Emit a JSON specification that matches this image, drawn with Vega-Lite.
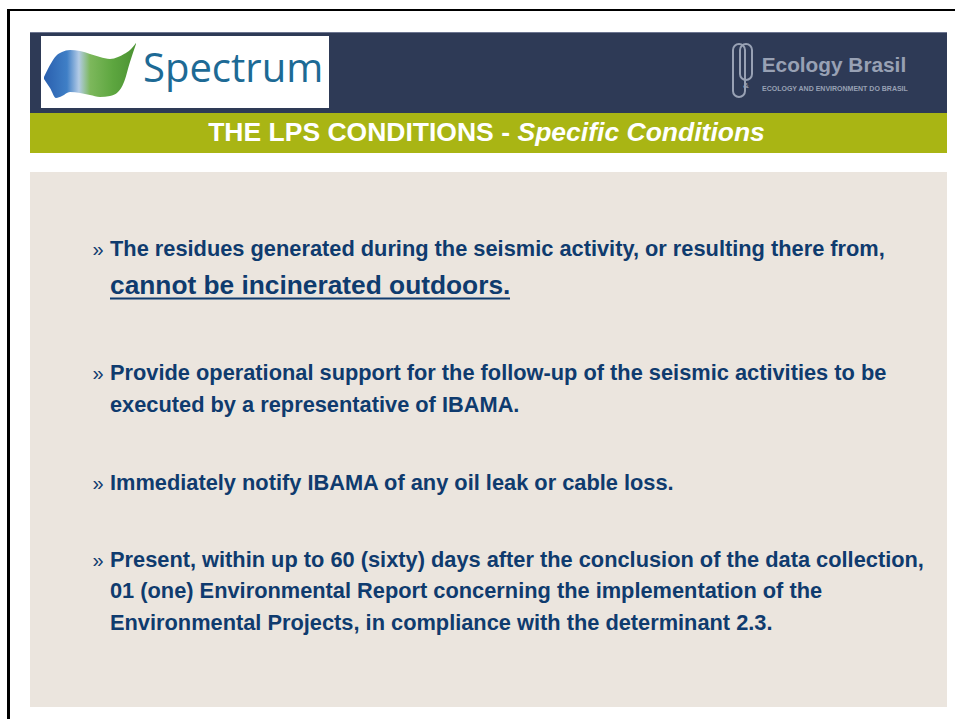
{
  "$schema": "https://vega.github.io/schema/vega-lite/v6.json",
  "background": "white",
  "padding": {"left": 7, "top": 9, "right": 0, "bottom": 0},
  "config": {"view": {"stroke": null}, "text": {"font": "Liberation Sans"}},
  "spacing": 0,
  "vconcat": [
    {"width": 948, "height": 2, "view": {"fill": "#000000"}, "data": {"values": []}, "mark": {"type": "text"}},
    {
      "spacing": 20,
      "hconcat": [
        {"width": 3, "height": 708, "view": {"fill": "#000000"}, "data": {"values": []}, "mark": {"type": "text"}},
        {
          "spacing": 0,
          "vconcat": [
            {"width": 917, "height": 21, "data": {"values": []}, "mark": {"type": "text"}},
            {"width": 917, "height": 1, "view": {"fill": "#6c7590"}, "data": {"values": []}, "mark": {"type": "text"}},
            {"width": 917, "height": 3, "view": {"fill": "#2e3a56"}, "data": {"values": []}, "mark": {"type": "text"}},
            {
              "spacing": 0,
              "hconcat": [
                {"width": 11, "height": 72, "view": {"fill": "#2e3a56"}, "data": {"values": []}, "mark": {"type": "text"}},
                {
                  "width": 288,
                  "height": 72,
                  "view": {"fill": "#ffffff"},
                  "layer": [
                    {
                      "data": {"values": [
                        {"u": 3, "top": 41, "bottom": 43},
                        {"u": 9, "top": 29, "bottom": 52},
                        {"u": 15, "top": 20, "bottom": 62},
                        {"u": 21, "top": 16, "bottom": 60},
                        {"u": 29, "top": 14, "bottom": 56},
                        {"u": 39, "top": 15, "bottom": 57},
                        {"u": 49, "top": 18, "bottom": 59},
                        {"u": 59, "top": 21, "bottom": 61},
                        {"u": 69, "top": 23, "bottom": 60},
                        {"u": 77, "top": 21, "bottom": 56},
                        {"u": 83, "top": 18, "bottom": 46},
                        {"u": 89, "top": 14, "bottom": 26},
                        {"u": 95, "top": 7, "bottom": 8}
                      ]},
                      "mark": {
                        "type": "area",
                        "interpolate": "monotone",
                        "color": {
                          "gradient": "linear", "x1": 0, "y1": 0, "x2": 1, "y2": 0,
                          "stops": [
                            {"offset": 0, "color": "#2a5fae"},
                            {"offset": 0.25, "color": "#3f7fc6"},
                            {"offset": 0.38, "color": "#b3cbe6"},
                            {"offset": 0.5, "color": "#7db85c"},
                            {"offset": 0.75, "color": "#5da63f"},
                            {"offset": 1, "color": "#4b9233"}
                          ]
                        }
                      },
                      "encoding": {
                        "x": {"field": "u", "type": "quantitative", "scale": {"domain": [0, 288], "nice": false, "zero": false}, "axis": null},
                        "y": {"field": "top", "type": "quantitative", "scale": {"domain": [0, 72], "nice": false, "zero": false, "reverse": true}, "axis": null},
                        "y2": {"field": "bottom"}
                      }
                    },
                    {
                      "data": {"values": [{"name": "Spectrum"}]},
                      "mark": {"type": "text", "font": "Open Sans", "fontSize": 40, "fontWeight": 400, "color": "#1d6a95", "align": "left", "baseline": "alphabetic"},
                      "encoding": {
                        "text": {"field": "name"},
                        "x": {"datum": 102, "type": "quantitative", "scale": {"domain": [0, 288], "nice": false, "zero": false}, "axis": null},
                        "y": {"datum": 45.7, "type": "quantitative", "scale": {"domain": [0, 72], "nice": false, "zero": false, "reverse": true}, "axis": null}
                      }
                    }
                  ]
                },
                {
                  "width": 618,
                  "height": 72,
                  "view": {"fill": "#2e3a56"},
                  "layer": [
                    {
                      "data": {"values": [
                        {"l": 404, "r": 416, "t": 8, "b": 61},
                        {"l": 411, "r": 423, "t": 8, "b": 44}
                      ]},
                      "mark": {"type": "rect", "fill": null, "stroke": "#98a1b4", "strokeWidth": 2, "cornerRadius": 6},
                      "encoding": {
                        "x": {"field": "l", "type": "quantitative", "scale": {"domain": [0, 618], "nice": false, "zero": false}, "axis": null},
                        "x2": {"field": "r"},
                        "y": {"field": "t", "type": "quantitative", "scale": {"domain": [0, 72], "nice": false, "zero": false, "reverse": true}, "axis": null},
                        "y2": {"field": "b"}
                      }
                    },
                    {
                      "data": {"values": [{"name": "Ecology Brasil"}]},
                      "mark": {"type": "text", "font": "Liberation Sans", "fontSize": 20.8, "fontWeight": "bold", "color": "#98a1b4", "align": "left", "baseline": "alphabetic"},
                      "encoding": {
                        "text": {"field": "name"},
                        "x": {"datum": 432.7, "type": "quantitative", "scale": {"domain": [0, 618], "nice": false, "zero": false}, "axis": null},
                        "y": {"datum": 35.7, "type": "quantitative", "scale": {"domain": [0, 72], "nice": false, "zero": false, "reverse": true}, "axis": null}
                      }
                    },
                    {
                      "data": {"values": [{"name": "ECOLOGY AND ENVIRONMENT DO BRASIL"}]},
                      "mark": {"type": "text", "font": "Liberation Sans", "fontSize": 7, "fontWeight": "bold", "color": "#98a1b4", "align": "left", "baseline": "alphabetic"},
                      "encoding": {
                        "text": {"field": "name"},
                        "x": {"datum": 433, "type": "quantitative", "scale": {"domain": [0, 618], "nice": false, "zero": false}, "axis": null},
                        "y": {"datum": 55, "type": "quantitative", "scale": {"domain": [0, 72], "nice": false, "zero": false, "reverse": true}, "axis": null}
                      }
                    },
                    {
                      "data": {"values": [{"name": "&"}]},
                      "mark": {"type": "text", "font": "Liberation Sans", "fontSize": 8, "fontWeight": "bold", "color": "#98a1b4", "align": "center", "baseline": "alphabetic"},
                      "encoding": {
                        "text": {"field": "name"},
                        "x": {"datum": 417, "type": "quantitative", "scale": {"domain": [0, 618], "nice": false, "zero": false}, "axis": null},
                        "y": {"datum": 52, "type": "quantitative", "scale": {"domain": [0, 72], "nice": false, "zero": false, "reverse": true}, "axis": null}
                      }
                    }
                  ]
                }
              ]
            },
            {"width": 917, "height": 5, "view": {"fill": "#2e3a56"}, "data": {"values": []}, "mark": {"type": "text"}},
            {
              "width": 917,
              "height": 40,
              "view": {"fill": "#a9b514"},
              "data": {"values": [
                {"part": "THE LPS CONDITIONS -", "style": "upright"},
                {"part": "Specific Conditions", "style": "italic"}
              ]},
              "layer": [
                {
                  "transform": [{"filter": "datum.style == 'upright'"}],
                  "mark": {"type": "text", "font": "Liberation Sans", "fontSize": 26.5, "fontWeight": "bold", "color": "#ffffff", "align": "right", "baseline": "alphabetic"},
                  "encoding": {
                    "text": {"field": "part"},
                    "x": {"datum": 480, "type": "quantitative", "scale": {"domain": [0, 917], "nice": false, "zero": false}, "axis": null},
                    "y": {"datum": 27.7, "type": "quantitative", "scale": {"domain": [0, 40], "nice": false, "zero": false, "reverse": true}, "axis": null}
                  }
                },
                {
                  "transform": [{"filter": "datum.style == 'italic'"}],
                  "mark": {"type": "text", "font": "Liberation Sans", "fontSize": 26.5, "fontWeight": "bold", "fontStyle": "italic", "color": "#ffffff", "align": "left", "baseline": "alphabetic"},
                  "encoding": {
                    "text": {"field": "part"},
                    "x": {"datum": 487.5, "type": "quantitative", "scale": {"domain": [0, 917], "nice": false, "zero": false}, "axis": null},
                    "y": {"datum": 27.7, "type": "quantitative", "scale": {"domain": [0, 40], "nice": false, "zero": false, "reverse": true}, "axis": null}
                  }
                }
              ]
            },
            {"width": 917, "height": 19, "data": {"values": []}, "mark": {"type": "text"}},
            {
              "width": 917,
              "height": 535,
              "view": {"fill": "#ebe5de"},
              "data": {"values": [
                {"item": 1, "line": 1, "emphasis": false, "baseline": 84, "text": "The residues generated during the seismic activity, or resulting there from,"},
                {"item": 1, "line": 2, "emphasis": true, "baseline": 122, "text": "cannot be incinerated outdoors."},
                {"item": 2, "line": 1, "emphasis": false, "baseline": 208, "text": "Provide operational support for the follow-up of the seismic activities to be"},
                {"item": 2, "line": 2, "emphasis": false, "baseline": 240, "text": "executed by a representative of IBAMA."},
                {"item": 3, "line": 1, "emphasis": false, "baseline": 318, "text": "Immediately notify IBAMA of any oil leak or cable loss."},
                {"item": 4, "line": 1, "emphasis": false, "baseline": 394.7, "text": "Present, within up to 60 (sixty) days after the conclusion of the data collection,"},
                {"item": 4, "line": 2, "emphasis": false, "baseline": 426, "text": "01 (one) Environmental Report concerning the implementation of the"},
                {"item": 4, "line": 3, "emphasis": false, "baseline": 458, "text": "Environmental Projects, in compliance with the determinant 2.3."}
              ]},
              "layer": [
                {
                  "transform": [{"filter": "!datum.emphasis"}],
                  "mark": {"type": "text", "font": "Liberation Sans", "fontSize": 21.8, "fontWeight": "bold", "color": "#0f3b6e", "align": "left", "baseline": "alphabetic"},
                  "encoding": {
                    "text": {"field": "text"},
                    "x": {"datum": 80, "type": "quantitative", "scale": {"domain": [0, 917], "nice": false, "zero": false}, "axis": null},
                    "y": {"field": "baseline", "type": "quantitative", "scale": {"domain": [0, 535], "nice": false, "zero": false, "reverse": true}, "axis": null}
                  }
                },
                {
                  "transform": [{"filter": "datum.emphasis"}],
                  "mark": {"type": "text", "font": "Liberation Sans", "fontSize": 26.3, "fontWeight": "bold", "color": "#0f3b6e", "align": "left", "baseline": "alphabetic"},
                  "encoding": {
                    "text": {"field": "text"},
                    "x": {"datum": 80, "type": "quantitative", "scale": {"domain": [0, 917], "nice": false, "zero": false}, "axis": null},
                    "y": {"field": "baseline", "type": "quantitative", "scale": {"domain": [0, 535], "nice": false, "zero": false, "reverse": true}, "axis": null}
                  }
                },
                {
                  "transform": [{"filter": "datum.emphasis"}],
                  "mark": {"type": "rule", "color": "#0f3b6e", "strokeWidth": 2, "yOffset": 4.5},
                  "encoding": {
                    "x": {"datum": 80, "type": "quantitative", "scale": {"domain": [0, 917], "nice": false, "zero": false}, "axis": null},
                    "x2": {"datum": 480},
                    "y": {"field": "baseline", "type": "quantitative", "scale": {"domain": [0, 535], "nice": false, "zero": false, "reverse": true}, "axis": null}
                  }
                },
                {
                  "transform": [{"filter": "datum.line == 1"}],
                  "mark": {"type": "text", "font": "Liberation Sans", "fontSize": 20, "fontWeight": "normal", "color": "#0f3b6e", "align": "left", "baseline": "alphabetic", "text": "»"},
                  "encoding": {
                    "x": {"datum": 62.5, "type": "quantitative", "scale": {"domain": [0, 917], "nice": false, "zero": false}, "axis": null},
                    "y": {"field": "baseline", "type": "quantitative", "scale": {"domain": [0, 535], "nice": false, "zero": false, "reverse": true}, "axis": null}
                  }
                }
              ]
            }
          ]
        }
      ]
    }
  ]
}
